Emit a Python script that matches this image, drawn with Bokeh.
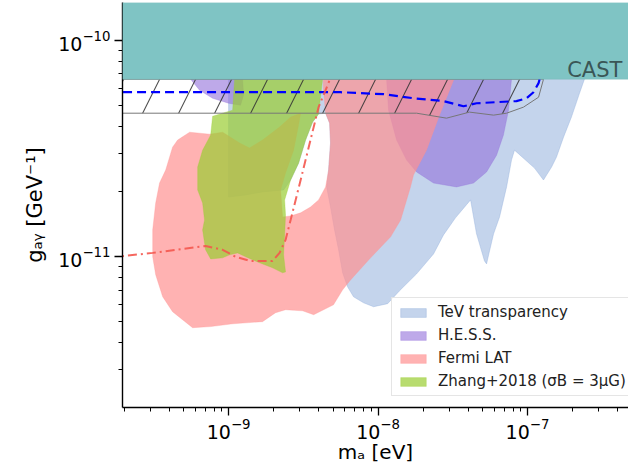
import numpy as np
from bokeh.plotting import figure
from bokeh.models import (Range1d, FixedTicker, LogTickFormatter, BoxAnnotation,
                          Label, Legend, LegendItem)
from bokeh.embed import file_html
from bokeh.resources import INLINE

# ---- data (log10 of m_a [eV] and g_ay [GeV^-1]) ----
tev_log_m = [-9.000, -9.000, -8.886, -8.773, -8.632, -8.585, -8.532, -8.485, -8.438, -8.398,
             -8.351, -8.324, -8.318, -8.331, -8.344, -8.318, -8.291, -8.264, -8.237, -8.204,
             -8.164, -8.097, -8.030, -7.936, -7.856, -7.742, -7.629, -7.562, -7.482, -7.381,
             -7.341, -7.288, -7.274, -7.254, -7.227, -7.187, -7.140, -7.107, -7.087, -6.953,
             -6.893, -6.839, -6.806, -6.759, -6.706, -6.652, -6.619, -6.592]
tev_log_g = [-10.092, -10.725, -10.715, -10.701, -10.692, -10.646, -10.568, -10.461, -10.378, -10.341,
             -10.337, -10.383, -10.475, -10.600, -10.678, -10.771, -10.877, -10.969, -11.075, -11.140,
             -11.186, -11.214, -11.232, -11.218, -11.158, -11.080, -10.988, -10.900, -10.821, -10.738,
             -10.895, -11.020, -11.034, -10.974, -10.895, -10.817, -10.678, -10.554, -10.508, -10.591,
             -10.646, -10.586, -10.540, -10.448, -10.355, -10.245, -10.180, -10.092]

hess_log_m = [-9.268, -9.254, -9.194, -9.107, -9.000, -8.920, -8.900, -8.906, -8.893, -7.957,
              -7.943, -7.930, -7.876, -7.809, -7.742, -7.629, -7.475, -7.361, -7.274, -7.207,
              -7.161, -7.127, -7.107, -7.100]
hess_log_g = [-10.092, -10.180, -10.231, -10.268, -10.291, -10.300, -10.254, -10.180, -10.148, -10.148,
              -10.180, -10.323, -10.461, -10.554, -10.609, -10.660, -10.678, -10.660, -10.609, -10.531,
              -10.438, -10.323, -10.180, -10.092]

fermi_log_m = [-9.261, -9.127, -9.040, -8.926, -8.860, -8.773, -8.659, -8.585, -8.518, -8.532,
               -8.565, -8.619, -8.652, -8.639, -8.585, -8.518, -8.452, -8.398, -8.351, -8.331,
               -8.318, -8.324, -8.351, -8.365, -8.371, -7.462, -7.495, -7.589, -7.676, -7.763,
               -7.783, -7.849, -7.916, -8.050, -8.184, -8.237, -8.298, -8.431, -8.505, -8.619,
               -8.686, -8.773, -8.973, -9.120, -9.241, -9.308, -9.375, -9.441, -9.488, -9.508,
               -9.508, -9.488, -9.462, -9.421, -9.375, -9.341]
fermi_log_g = [-10.425, -10.434, -10.425, -10.475, -10.498, -10.461, -10.401, -10.355, -10.337, -10.392,
               -10.508, -10.614, -10.692, -10.817, -10.812, -10.798, -10.771, -10.738, -10.678, -10.600,
               -10.475, -10.383, -10.337, -10.231, -10.092, -10.092, -10.185, -10.346, -10.508, -10.623,
               -10.678, -10.831, -10.909, -11.006, -11.108, -11.154, -11.223, -11.269, -11.251, -11.246,
               -11.260, -11.301, -11.311, -11.324, -11.329, -11.292, -11.255, -11.186, -11.084, -11.001,
               -10.877, -10.752, -10.660, -10.600, -10.494, -10.461]

zhang_log_m = [-8.960, -8.351, -8.371, -8.398, -8.438, -8.485, -8.532, -8.585, -8.625, -8.619,
               -8.625, -8.632, -8.619, -8.639, -8.706, -8.793, -8.886, -8.940, -8.993, -9.040,
               -9.120, -9.154, -9.174, -9.161, -9.174, -9.207, -9.207, -9.174, -9.120, -9.107,
               -9.040, -8.973, -8.960]
zhang_log_g = [-10.092, -10.092, -10.180, -10.341, -10.378, -10.461, -10.568, -10.646, -10.738, -10.808,
               -10.900, -10.992, -11.071, -11.075, -11.052, -11.029, -11.001, -10.983, -10.992, -11.006,
               -11.011, -10.969, -10.877, -10.831, -10.752, -10.692, -10.586, -10.508, -10.438, -10.351,
               -10.337, -10.323, -10.180]

hatch_log_m = [-9.80, -6.893, -6.926, -7.027, -7.140, -7.227, -7.388, -7.542, -7.742, -9.80]
hatch_log_g = [-10.180, -10.180, -10.263, -10.309, -10.337, -10.346, -10.332, -10.360, -10.337, -10.337]

blue_dash_log_m = [-9.80, -8.251, -7.963, -7.763, -7.562, -7.428, -7.341, -7.074, -7.007, -6.960, -6.926, -6.906]
blue_dash_log_g = [-10.240, -10.240, -10.249, -10.268, -10.281, -10.305, -10.291, -10.281, -10.268, -10.240, -10.198, -10.148]

red_dd_log_m = [-9.80, -9.508, -9.154, -9.040, -8.953, -8.860, -8.706, -8.659, -8.619, -8.585,
                -8.518, -8.452, -8.398, -8.338, -8.298]
red_dd_log_g = [-11.005, -10.983, -10.951, -10.969, -11.001, -11.020, -11.020, -10.983, -10.923, -10.831,
                -10.646, -10.461, -10.309, -10.208, -10.138]

cast_limit = 6.6e-11
x_major = [1e-9, 1e-8, 1e-7]
y_major = [1e-11, 1e-10]
labels = ["TeV transparency", "H.E.S.S.", "Fermi LAT", "Zhang+2018 (σB = 3μG)"]
x_title = "mₐ [eV]"
y_title = "gₐᵧ [GeV⁻¹]"

FONT = "DejaVu Sans"

def pw(a):
    return 10 ** np.array(a)

p = figure(width=628, height=466, x_axis_type="log", y_axis_type="log",
           x_range=Range1d(1.95e-10, 4.74e-7), y_range=Range1d(2.004e-12, 1.496e-10),
           output_backend="svg", toolbar_location=None,
           min_border_left=122, min_border_right=0, min_border_top=2, min_border_bottom=58)
p.outline_line_color = None
p.xgrid.visible = False
p.ygrid.visible = False
p.background_fill_color = "white"

r_tev = p.patch(pw(tev_log_m), pw(tev_log_g), fill_color="#8aaad9", fill_alpha=0.5,
                line_color="#8aaad9", line_alpha=0.35, line_width=1)
r_hess = p.patch(pw(hess_log_m), pw(hess_log_g), fill_color="mediumpurple", fill_alpha=0.6,
                 line_color="mediumpurple", line_alpha=0.3, line_width=1)
r_fermi = p.patch(pw(fermi_log_m), pw(fermi_log_g), fill_color="#ff9191", fill_alpha=0.7,
                  line_color="#ff9191", line_alpha=0.3, line_width=1)
r_zhang = p.patch(pw(zhang_log_m), pw(zhang_log_g), fill_color="yellowgreen", fill_alpha=0.7,
                  line_color="yellowgreen", line_alpha=0.3, line_width=1)

p.patch(pw(hatch_log_m), pw(hatch_log_g), fill_alpha=0, line_color="#777777", line_width=1,
        hatch_pattern="/", hatch_color="#333333", hatch_alpha=0.85, hatch_scale=72, hatch_weight=1.1)

p.line(pw(blue_dash_log_m), pw(blue_dash_log_g), line_color="blue", line_width=2.2, line_dash="9 5")
p.line(pw(red_dd_log_m), pw(red_dd_log_g), line_color="#f4564e", line_alpha=0.9, line_width=2,
       line_dash="9 4 2 4")

cast = BoxAnnotation(bottom=cast_limit, fill_color="#7fc4c4", fill_alpha=1.0,
                     line_color="#6cb4b4", line_width=1)
p.add_layout(cast)
p.add_layout(Label(x=4.31e-7, y=7.28e-11, text="CAST", text_align="right",
                   text_baseline="alphabetic", text_font=FONT, text_font_size="21px",
                   text_color="#3a5656"))

p.xaxis.ticker = FixedTicker(ticks=x_major,
                             minor_ticks=[m * 10.0 ** e for e in range(-10, -6) for m in range(2, 10)])
p.yaxis.ticker = FixedTicker(ticks=y_major,
                             minor_ticks=[m * 10.0 ** e for e in range(-12, -9) for m in range(2, 10)])
p.xaxis.axis_label = x_title
p.yaxis.axis_label = y_title
for ax in (p.xaxis[0], p.yaxis[0]):
    ax.formatter = LogTickFormatter()
    ax.axis_line_color = "black"
    ax.axis_line_width = 1.4
    ax.major_tick_out = 8
    ax.major_tick_in = 0
    ax.minor_tick_out = 4
    ax.minor_tick_in = 0
    ax.major_tick_line_width = 1.3
    ax.minor_tick_line_width = 1
    ax.major_tick_line_color = "black"
    ax.minor_tick_line_color = "black"
    ax.major_label_text_font = FONT
    ax.major_label_text_font_size = "19px"
    ax.major_label_text_color = "black"
    ax.axis_label_text_font = FONT
    ax.axis_label_text_font_size = "21px"
    ax.axis_label_text_font_style = "normal"
    ax.axis_label_text_color = "black"
p.xaxis[0].major_label_standoff = 2
p.xaxis[0].axis_label_standoff = -2
p.xaxis[0].axis_label_text_font_size = "20px"
p.yaxis[0].major_label_standoff = 4
p.yaxis[0].axis_label_standoff = 8

legend = Legend(items=[LegendItem(label=labels[0], renderers=[r_tev]),
                       LegendItem(label=labels[1], renderers=[r_hess]),
                       LegendItem(label=labels[2], renderers=[r_fermi]),
                       LegendItem(label=labels[3], renderers=[r_zhang])],
                location=(269, 11), margin=0, padding=5, spacing=5,
                glyph_width=32, glyph_height=11, label_height=18, label_standoff=9,
                label_text_font=FONT, label_text_font_size="15px", label_text_color="#222222",
                border_line_color="#cccccc", border_line_width=1,
                background_fill_color="white", background_fill_alpha=0.8)
p.add_layout(legend)

open("out.html", "w").write(file_html(p, INLINE))
